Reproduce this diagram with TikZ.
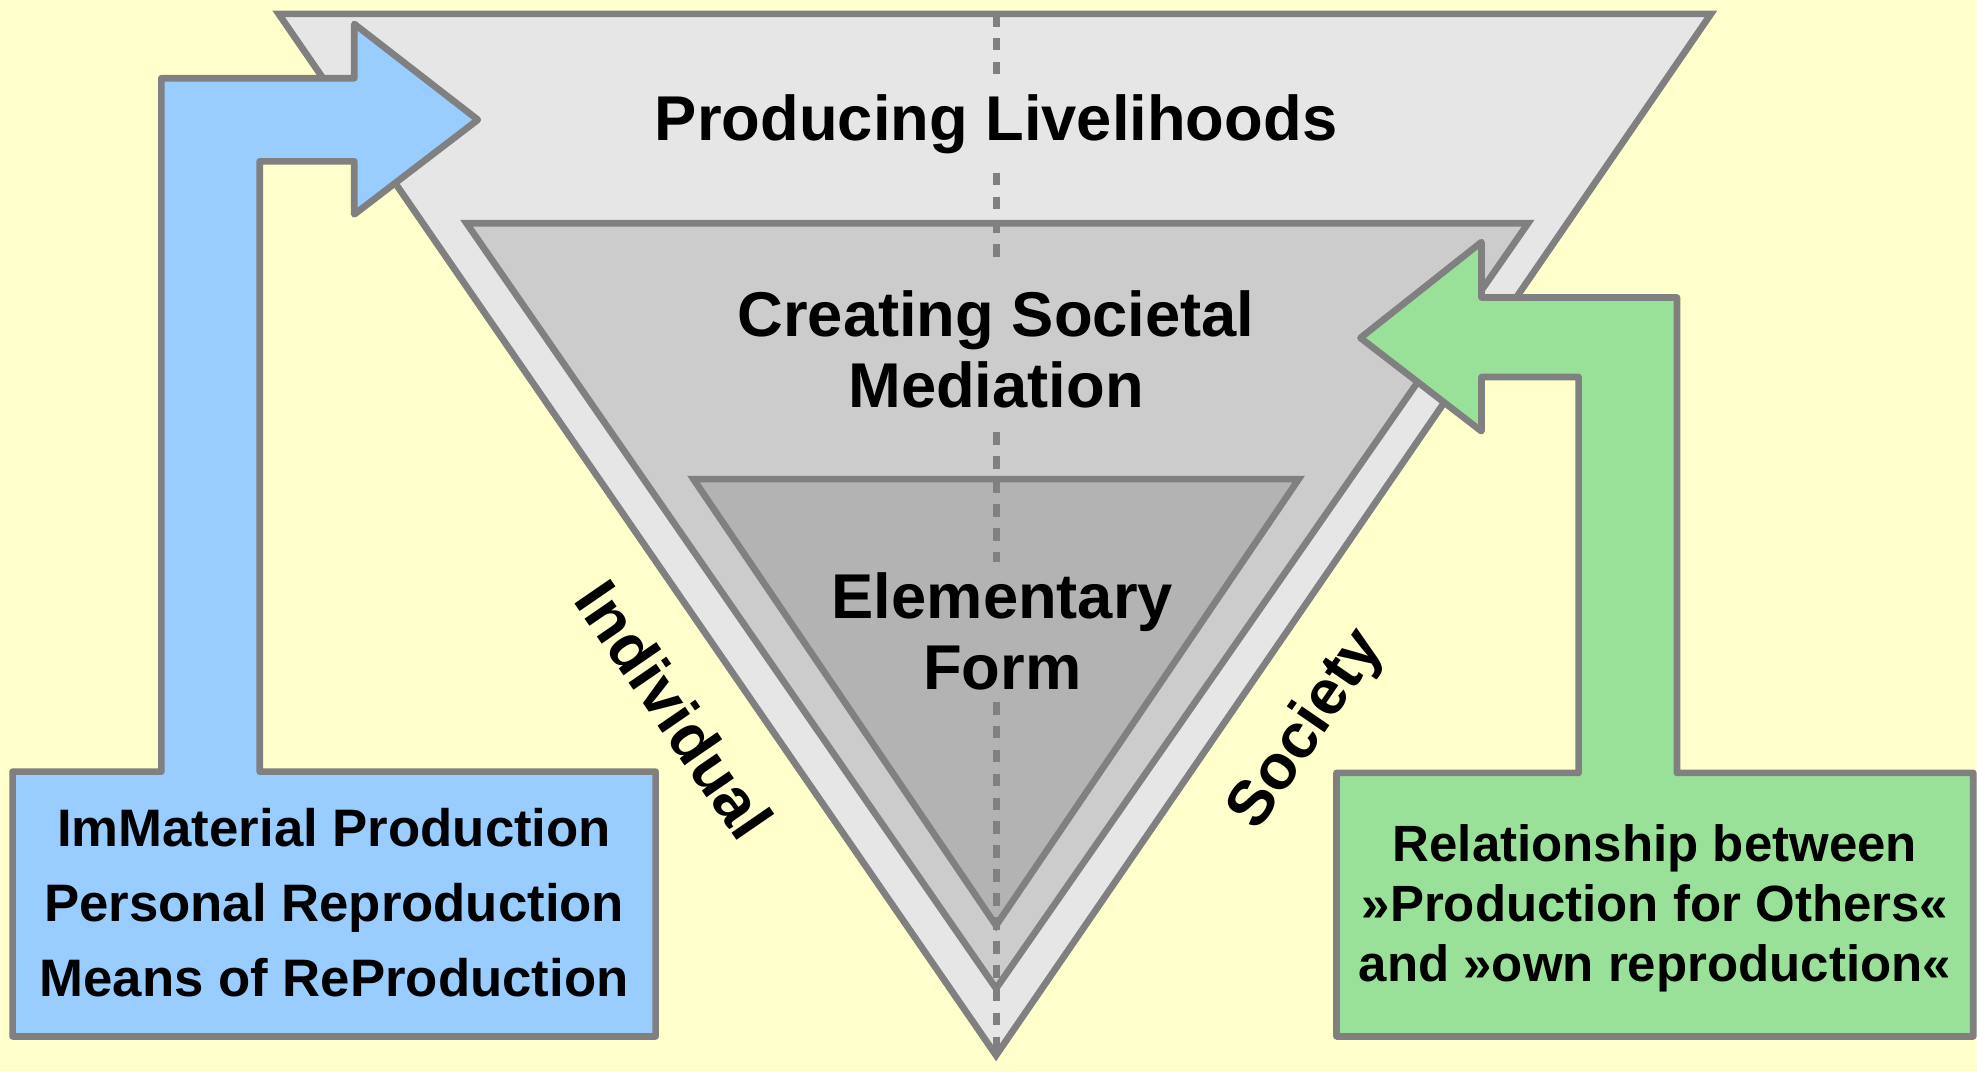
\documentclass[tikz,border=0pt]{standalone}
\usepackage{fontspec}
\setmainfont{Liberation Sans}
\definecolor{fond}{HTML}{FFFFCC}
\definecolor{trait}{HTML}{808080}
\definecolor{gris1}{HTML}{E6E6E6}
\definecolor{gris2}{HTML}{CCCCCC}
\definecolor{gris3}{HTML}{B3B3B3}
\definecolor{bleu}{HTML}{99CCFF}
\definecolor{vert}{HTML}{99E199}
\begin{document}
\begin{tikzpicture}[x=0.012608cm,y=-0.012608cm]
 % definition des styles
  \tikzstyle{niveau}=[draw=trait,line width=1.9pt]
  \tikzstyle{fleche}=[draw=trait,line width=1.9pt,line join=round]
  \tikzstyle{titre}=[font=\bfseries\fontsize{18}{20.3}\selectfont,align=center,inner ysep=6.7pt]
  \tikzstyle{cote}=[font=\bfseries\fontsize{18}{20.3}\selectfont,inner sep=0pt]
  \tikzstyle{boite}=[font=\bfseries\fontsize{15}{21.3}\selectfont,align=center]
  \tikzstyle{axe}=[draw=trait,line width=2pt,dash pattern=on 3.6pt off 3.2pt]
 % le fond
  \fill[fond] (0,0) rectangle (1568,849.5);
  \useasboundingbox (0,0) rectangle (1568,849.5);
 % les triangles
  \coordinate (haut) at (790,11);
  \coordinate (pointe) at (790,837);
  \draw[niveau,fill=gris1] (221,11) -- (1357,11) -- (pointe) -- cycle;
  \draw[niveau,fill=gris2] (370,177) -- (1212,177) -- (790,784) -- cycle;
  \draw[niveau,fill=gris3] (550,380) -- (1030,380) -- (790,734) -- cycle;
 % les niveaux
  \node[titre,anchor=base,inner ysep=5pt] (prod) at (790,111.8) {Producing Livelihoods};
  \node[titre] (med) at (790,277) {Creating Societal\\Mediation};
  \node[titre,inner ysep=3pt] (elem) at (795,501) {Elementary\\Form};
 % l'axe
  \draw[axe] (haut) -- (prod.north);
  \draw[axe] (prod.south) -- (med.north);
  \draw[axe] (med.south) -- (haut |- elem.north);
  \draw[axe] (haut |- elem.south) -- (pointe);
 % les fleches
  \draw[fleche,fill=bleu] (10,612) -- (128,612) -- (128,62) -- (281,62) -- (281,19) -- (379,95)
    -- (281,170) -- (281,128) -- (206,128) -- (206,612) -- (520,612) -- (520,822) -- (10,822) -- cycle;
  \draw[fleche,fill=vert] (1060,613) -- (1252,613) -- (1252,299) -- (1175,299) -- (1175,342) -- (1079,268)
    -- (1175,192) -- (1175,236) -- (1330,236) -- (1330,613) -- (1565,613) -- (1565,822) -- (1060,822) -- cycle;
 % les boites
  \node[boite] (immat) at (265,715.7) {ImMaterial Production\\Personal Reproduction\\Means of ReProduction};
  \node[boite,font=\bfseries\fontsize{14.5}{17}\selectfont] (relat) at (1312.5,720.5)
    {Relationship between\\»Production for Others«\\and »own reproduction«};
 % les cotes
  \node[cote,rotate=-55.5] (indiv) at (535,563) {Individual};
  \node[cote,rotate=55.5] (soc) at (1037,579) {Society};
\end{tikzpicture}
\end{document}
